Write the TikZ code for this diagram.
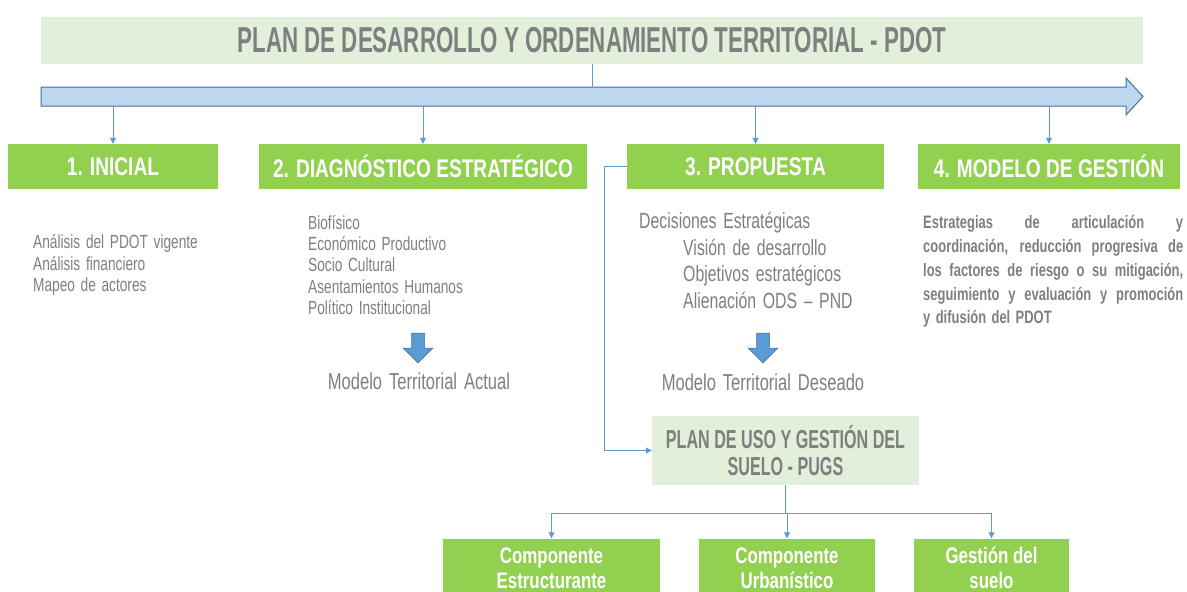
\documentclass[tikz,border=0pt]{standalone}
\usepackage{fontspec}
\setmainfont{Liberation Sans}[FakeStretch=0.72, WordSpace=1.5]
\newfontfamily\headfont{Liberation Sans}[FakeStretch=0.62]
\newfontfamily\phasefont{Liberation Sans}[FakeStretch=0.75]
\usetikzlibrary{arrows.meta}

\definecolor{pgreen}{HTML}{92D050}
\definecolor{lgreen}{HTML}{E2EFDA}
\definecolor{lblue}{HTML}{BDD7EE}
\definecolor{dblue}{HTML}{41719C}
\definecolor{cblue}{HTML}{5B9BD5}
\definecolor{tgray}{HTML}{7F7F7F}

\tikzset{phase/.style={fill=pgreen, text=white, minimum height=45pt, inner sep=0pt, font=\phasefont\bfseries\fontsize{25.5}{30}\selectfont}}
\tikzset{pale/.style={fill=lgreen, text=tgray, inner sep=0pt, font=\headfont\bfseries}}
\tikzset{txt/.style={text=tgray, inner sep=0pt, align=left, anchor=north west}}
\tikzset{comp/.style={fill=pgreen, text=white, inner sep=0pt, minimum height=59pt, align=center, font=\phasefont\bfseries\fontsize{22.5}{25}\selectfont}}
\tikzset{conn/.style={draw=cblue, line width=1pt, >={Triangle[length=6pt, width=6pt]}}}
\tikzset{blockarrow/.style={fill=cblue, draw=dblue, line width=0.5pt}}

\begin{document}
\begin{tikzpicture}[x=1pt, y=-1pt]
    \useasboundingbox (0,0) rectangle (1187,592);
    \clip (0,0) rectangle (1187,592);

    \node[pale, minimum width=1102pt, minimum height=47pt, font=\headfont\bfseries\fontsize{36}{40}\selectfont](title) at (592,40) {PLAN DE DESARROLLO Y ORDENAMIENTO TERRITORIAL - PDOT};

    \draw[draw=dblue, fill=lblue, line width=1pt] (41,87) -- (1126,87) -- (1126,78) -- (1143,96.5) -- (1126,115) -- (1126,106) -- (41,106) -- cycle;
    \coordinate (flowtop) at (592,87);
    \coordinate (flowbot) at (592,106);

    \node[phase, minimum width=210pt] (inicial) at (113,166.5) {1. INICIAL};
    \node[phase, minimum width=328pt] (diag) at (423,166.5) {2. DIAGNÓSTICO ESTRATÉGICO};
    \node[phase, minimum width=257pt] (prop) at (755.5,166.5) {3. PROPUESTA};
    \node[phase, minimum width=262pt] (gestion) at (1049,166.5) {4. MODELO DE GESTIÓN};

    \node[txt, font=\fontsize{19}{21.5}\selectfont] (ini_list) at (33,234.5) {Análisis del PDOT vigente\\Análisis financiero\\Mapeo de actores};
    \node[txt, font=\fontsize{19}{21.3}\selectfont] (diag_list) at (308,215) {Biofísico\\Económico Productivo\\Socio Cultural\\Asentamientos Humanos\\Político Institucional};
    \node[txt, font=\fontsize{22}{26.7}\selectfont] (prop_list) at (639,212) {Decisiones Estratégicas\\\hspace*{44pt}Visión de desarrollo\\\hspace*{44pt}Objetivos estratégicos\\\hspace*{44pt}Alienación ODS – PND};
    \node[txt, text width=260pt, align=justify, font=\bfseries\fontsize{18}{23.7}\selectfont] (gest_text) at (923,215.5) {Estrategias de articulación y\linebreak coordinación, reducción progresiva de\linebreak los factores de riesgo o su mitigación,\linebreak seguimiento y evaluación y promoción\linebreak y difusión del PDOT};

    \draw[blockarrow] (411.5,333) -- (424.5,333) -- (424.5,348) -- (433,348) -- (418,363) -- (403,348) -- (411.5,348) -- cycle;
    \draw[blockarrow] (756.5,333) -- (769.5,333) -- (769.5,348) -- (778,348) -- (763,363) -- (748,348) -- (756.5,348) -- cycle;

    \node[text=tgray, inner sep=0pt, font=\fontsize{23}{26}\selectfont] (mta) at (419,381) {Modelo Territorial Actual};
    \node[text=tgray, inner sep=0pt, font=\fontsize{23}{26}\selectfont] (mtd) at (763,382) {Modelo Territorial Deseado};

    \node[pale, minimum width=267pt, minimum height=69pt, align=center, font=\headfont\bfseries\fontsize{26}{27}\selectfont] (pugs) at (785.5,450.5) {PLAN DE USO Y GESTIÓN DEL\\SUELO - PUGS};

    \node[comp, minimum width=217pt] (estruct) at (551.5,568) {Componente\\Estructurante};
    \node[comp, minimum width=176pt] (urban) at (787,568) {Componente\\Urbanístico};
    \node[comp, minimum width=155pt] (suelo) at (991.5,568) {Gestión del\\suelo};

    \draw[conn] (title.south) -- (flowtop);

    \draw[conn, ->] (inicial.north |- flowbot) -- (inicial.north);

    \draw[conn, ->] (diag.north |- flowbot) -- (diag.north);

    \draw[conn, ->] (prop.north |- flowbot) -- (prop.north);

    \draw[conn, ->] (gestion.north |- flowbot) -- (gestion.north);

    \draw[conn, ->] (prop.west) -- ++(-22,0) |- (pugs.west);

    \draw[conn, ->] (pugs.south) -- ++(0,28) -| (estruct.north);

    \draw[conn, ->] (pugs.south) -- ++(0,28) -| (urban.north);

    \draw[conn, ->] (pugs.south) -- ++(0,28) -| (suelo.north);
\end{tikzpicture}
\end{document}
